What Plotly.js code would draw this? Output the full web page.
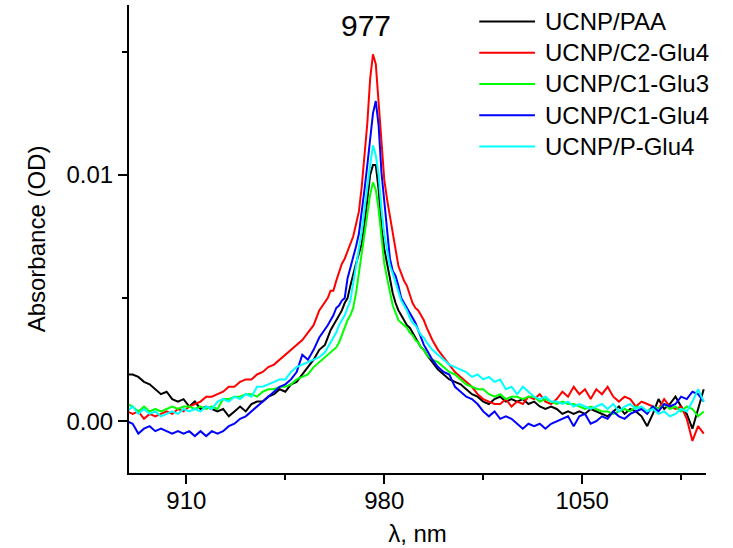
<!DOCTYPE html>
<html>
<head>
<meta charset="utf-8">
<script src="https://cdn.plot.ly/plotly-3.0.1.min.js"></script>
<style>html,body{margin:0;padding:0;background:#fff;}#chart{width:733px;height:548px;}</style>
</head>
<body>
<div id="chart"></div>
<script>
// Wavelength grid (nm)
const wavelength = [
  889,891,893,895,897,899,901,903,905,907,909,911,913,915,917,919,921,923,925,927,929,931,933,935,937,939,941,943,945,947,949,951,953,955,957,959,
  960,961,962,963,964,965,966,967,968,969,970,971,972,973,974,975,976,977,978,979,980,981,982,983,984,985,986,987,988,989,990,991,992,993,994,995,
  997,999,1001,1003,1005,1007,1009,1011,1013,1015,1017,1019,1021,1023,1025,1027,1029,1031,1033,1035,1037,1039,1041,1043,1045,1047,1049,1051,1053,1055,
  1057,1059,1061,1063,1065,1067,1069,1071,1073,1075,1077,1079,1081,1083,1085,1087,1089,1091,1093
];

const seriesNames = ['UCNP/PAA','UCNP/C2-Glu4','UCNP/C1-Glu3','UCNP/C1-Glu4','UCNP/P-Glu4'];
const seriesColors = ['#000000','#ff0000','#00ff00','#0000ff','#00ffff'];

const absPAA = [
  0.0019,0.0019,0.0018,0.0016,0.0015,0.0013,0.0011,0.0012,0.0009,0.0008,0.0009,0.0006,0.0008,0.0005,0.0006,0.0005,0.0004,0.0005,0.0002,0.0004,0.0006,0.0004,0.0007,0.0008,0.0008,0.0010,0.0011,0.0013,0.0012,0.0015,0.0016,0.0019,0.0022,0.0025,0.0029,0.0031,
  0.0034,0.0037,0.0039,0.0041,0.0043,0.0045,0.0048,0.0050,0.0055,0.0060,0.0064,0.0068,0.0072,0.0080,0.0090,0.0100,0.0104,0.0104,0.0094,0.0079,0.0070,0.0064,0.0057,0.0052,0.0048,0.0045,0.0043,0.0041,0.0039,0.0038,0.0036,0.0034,0.0032,0.0030,0.0029,0.0027,
  0.0024,0.0021,0.0019,0.0017,0.0016,0.0015,0.0013,0.0011,0.0010,0.0008,0.0007,0.0009,0.0010,0.0008,0.0009,0.0008,0.0009,0.0007,0.0008,0.0006,0.0005,0.0006,0.0005,0.0003,0.0004,0.0003,0.0004,0.0003,0.0005,0.0004,
  0.0003,0.0002,0.0004,0.0006,0.0003,0.0005,0.0004,0.0002,-0.0002,0.0003,0.0009,0.0005,0.0007,0.0010,0.0006,0.0003,-0.0003,0.0005,0.0013
];

const absC2Glu4 = [
  0.0004,0.0003,0.0004,0.0001,0.0003,0.0002,0.0003,0.0004,0.0003,0.0005,0.0004,0.0006,0.0007,0.0008,0.0010,0.0010,0.0011,0.0012,0.0014,0.0014,0.0016,0.0017,0.0017,0.0019,0.0020,0.0022,0.0023,0.0025,0.0027,0.0029,0.0031,0.0033,0.0036,0.0039,0.0045,0.0048,
  0.0050,0.0053,0.0053,0.0057,0.0061,0.0064,0.0066,0.0069,0.0072,0.0075,0.0080,0.0085,0.0095,0.0107,0.0121,0.0139,0.0149,0.0145,0.0128,0.0112,0.0098,0.0090,0.0083,0.0076,0.0069,0.0063,0.0060,0.0057,0.0055,0.0051,0.0048,0.0046,0.0045,0.0043,0.0041,0.0038,
  0.0033,0.0029,0.0026,0.0023,0.0020,0.0018,0.0016,0.0014,0.0011,0.0009,0.0008,0.0007,0.0007,0.0009,0.0006,0.0008,0.0007,0.0010,0.0009,0.0011,0.0008,0.0007,0.0009,0.0012,0.0010,0.0014,0.0011,0.0013,0.0009,0.0013,
  0.0011,0.0014,0.0010,0.0008,0.0010,0.0009,0.0006,0.0008,0.0007,0.0006,0.0005,0.0009,0.0006,0.0005,0.0006,0.0001,-0.0008,-0.0002,-0.0005
];

const absC1Glu3 = [
  0.0007,0.0006,0.0004,0.0006,0.0004,0.0005,0.0004,0.0005,0.0006,0.0005,0.0006,0.0006,0.0005,0.0006,0.0005,0.0006,0.0005,0.0009,0.0009,0.0010,0.0010,0.0011,0.0011,0.0010,0.0012,0.0013,0.0013,0.0014,0.0014,0.0015,0.0017,0.0018,0.0019,0.0022,0.0024,0.0026,
  0.0027,0.0028,0.0029,0.0030,0.0032,0.0035,0.0038,0.0041,0.0043,0.0046,0.0052,0.0060,0.0067,0.0075,0.0084,0.0092,0.0097,0.0094,0.0086,0.0074,0.0064,0.0058,0.0052,0.0047,0.0044,0.0041,0.0040,0.0039,0.0038,0.0036,0.0035,0.0033,0.0032,0.0030,0.0029,0.0027,
  0.0025,0.0024,0.0022,0.0020,0.0019,0.0017,0.0015,0.0014,0.0013,0.0013,0.0011,0.0010,0.0011,0.0009,0.0010,0.0010,0.0009,0.0010,0.0010,0.0008,0.0009,0.0008,0.0007,0.0008,0.0007,0.0007,0.0006,0.0005,0.0006,0.0005,
  0.0004,0.0004,0.0003,0.0004,0.0005,0.0004,0.0006,0.0005,0.0004,0.0006,0.0005,0.0007,0.0005,0.0006,0.0004,0.0006,0.0005,0.0002,0.0004
];

const absC1Glu4 = [
  0.0000,-0.0001,-0.0005,-0.0003,-0.0002,-0.0004,-0.0003,-0.0004,-0.0005,-0.0004,-0.0005,-0.0004,-0.0006,-0.0004,-0.0006,-0.0004,-0.0005,-0.0004,-0.0002,-0.0001,0.0001,0.0002,0.0004,0.0006,0.0008,0.0010,0.0012,0.0014,0.0015,0.0017,0.0020,0.0027,0.0025,0.0029,0.0034,0.0037,
  0.0039,0.0041,0.0043,0.0046,0.0047,0.0049,0.0050,0.0058,0.0062,0.0066,0.0071,0.0076,0.0084,0.0094,0.0104,0.0114,0.0125,0.0130,0.0120,0.0101,0.0089,0.0078,0.0066,0.0061,0.0059,0.0055,0.0050,0.0048,0.0046,0.0044,0.0042,0.0040,0.0037,0.0034,0.0031,0.0029,
  0.0025,0.0022,0.0020,0.0019,0.0014,0.0012,0.0010,0.0009,0.0007,0.0004,0.0002,0.0004,0.0001,0.0002,0.0001,-0.0001,-0.0003,-0.0001,-0.0002,-0.0001,-0.0003,-0.0001,0.0000,0.0001,0.0002,-0.0002,0.0002,0.0003,-0.0001,0.0000,
  0.0002,0.0001,0.0004,0.0002,0.0001,0.0003,0.0004,0.0005,0.0003,0.0006,0.0004,0.0007,0.0006,0.0007,0.0010,0.0009,0.0012,0.0011,0.0008
];

const absPGlu4 = [
  0.0004,0.0006,0.0003,0.0005,0.0003,0.0004,0.0002,0.0003,0.0004,0.0003,0.0005,0.0004,0.0005,0.0004,0.0006,0.0005,0.0008,0.0009,0.0008,0.0010,0.0009,0.0011,0.0010,0.0014,0.0014,0.0015,0.0016,0.0017,0.0017,0.0020,0.0022,0.0023,0.0024,0.0025,0.0026,0.0028,
  0.0030,0.0032,0.0034,0.0036,0.0039,0.0041,0.0043,0.0046,0.0049,0.0056,0.0063,0.0069,0.0077,0.0086,0.0096,0.0104,0.0112,0.0108,0.0100,0.0086,0.0076,0.0070,0.0063,0.0060,0.0056,0.0052,0.0049,0.0047,0.0045,0.0042,0.0040,0.0039,0.0037,0.0035,0.0034,0.0032,
  0.0029,0.0027,0.0025,0.0023,0.0022,0.0021,0.0020,0.0018,0.0019,0.0017,0.0018,0.0016,0.0017,0.0013,0.0014,0.0011,0.0014,0.0012,0.0010,0.0009,0.0010,0.0008,0.0008,0.0007,0.0008,0.0006,0.0007,0.0006,0.0005,0.0006,
  0.0007,0.0005,0.0007,0.0004,0.0006,0.0007,0.0005,0.0006,0.0004,0.0005,0.0003,0.0004,0.0002,0.0003,0.0005,0.0004,0.0008,0.0013,0.0008
];

const xTickVals = [910, 980, 1050];
const xTickText = ['910', '980', '1050'];
const xMinorVals = [945, 1015, 1085];
const yTickVals = [0, 0.01];
const yTickText = ['0.00', '0.01'];
const yMinorVals = [0.005, 0.015];
const peakLabel = '977';

const allSeries = [absPAA, absC2Glu4, absC1Glu3, absC1Glu4, absPGlu4];

const FONT = 'Liberation Sans, Arial, Helvetica, sans-serif';

const traces = allSeries.map((ys, i) => ({
  type: 'scatter',
  mode: 'lines',
  x: wavelength,
  y: ys,
  name: seriesNames[i],
  line: {color: seriesColors[i], width: 2},
  hoverinfo: 'skip'
}));

// custom legend (long line samples like the original)
const shapes = [];
const annotations = [];
const legTop = 0.9647, legStep = 0.0667;
seriesNames.forEach((nm, i) => {
  const yy = legTop - i * legStep;
  shapes.push({type: 'line', xref: 'paper', yref: 'paper', x0: 0.607, x1: 0.7036, y0: yy, y1: yy,
    line: {color: seriesColors[i], width: 2}});
  annotations.push({xref: 'paper', yref: 'paper', x: 0.7175, y: yy, xanchor: 'left', yanchor: 'middle',
    text: nm, showarrow: false, font: {family: FONT, size: 24, color: '#000'}});
});
annotations.push({xref: 'x', yref: 'y', x: 973.7, y: 0.01606, xanchor: 'center', yanchor: 'middle',
  text: peakLabel, showarrow: false, font: {family: FONT, size: 30, color: '#000'}});

const axisCommon = {
  showline: true, linewidth: 2, linecolor: '#000', mirror: false,
  showgrid: false, zeroline: false,
  ticks: 'outside', ticklen: 9, tickwidth: 2, tickcolor: '#000',
  tickfont: {family: FONT, size: 24, color: '#000'},
  tickmode: 'array'
};

const layout = {
  width: 733, height: 548,
  margin: {l: 129, r: 27, t: 5, b: 75, pad: 0},
  paper_bgcolor: '#fff', plot_bgcolor: '#fff',
  showlegend: false,
  font: {family: FONT, size: 24, color: '#000'},
  xaxis: Object.assign({}, axisCommon, {
    range: [889.7, 1093.8],
    tickvals: xTickVals, ticktext: xTickText,
    ticklabelstandoff: -4,
    minor: {tickmode: 'array', tickvals: xMinorVals, ticks: 'outside', ticklen: 5, tickwidth: 2, tickcolor: '#000', showgrid: false},
    title: {text: 'λ, nm', font: {family: FONT, size: 24, color: '#000'}, standoff: 12}
  }),
  yaxis: Object.assign({}, axisCommon, {
    range: [-0.0021, 0.0169],
    tickvals: yTickVals, ticktext: yTickText,
    minor: {tickmode: 'array', tickvals: yMinorVals, ticks: 'outside', ticklen: 5, tickwidth: 2, tickcolor: '#000', showgrid: false},
    title: {text: 'Absorbance (OD)', font: {family: FONT, size: 24, color: '#000'}, standoff: 14}
  }),
  shapes: shapes,
  annotations: annotations
};

Plotly.newPlot('chart', traces, layout, {staticPlot: true, displayModeBar: false});
</script>
</body>
</html>
